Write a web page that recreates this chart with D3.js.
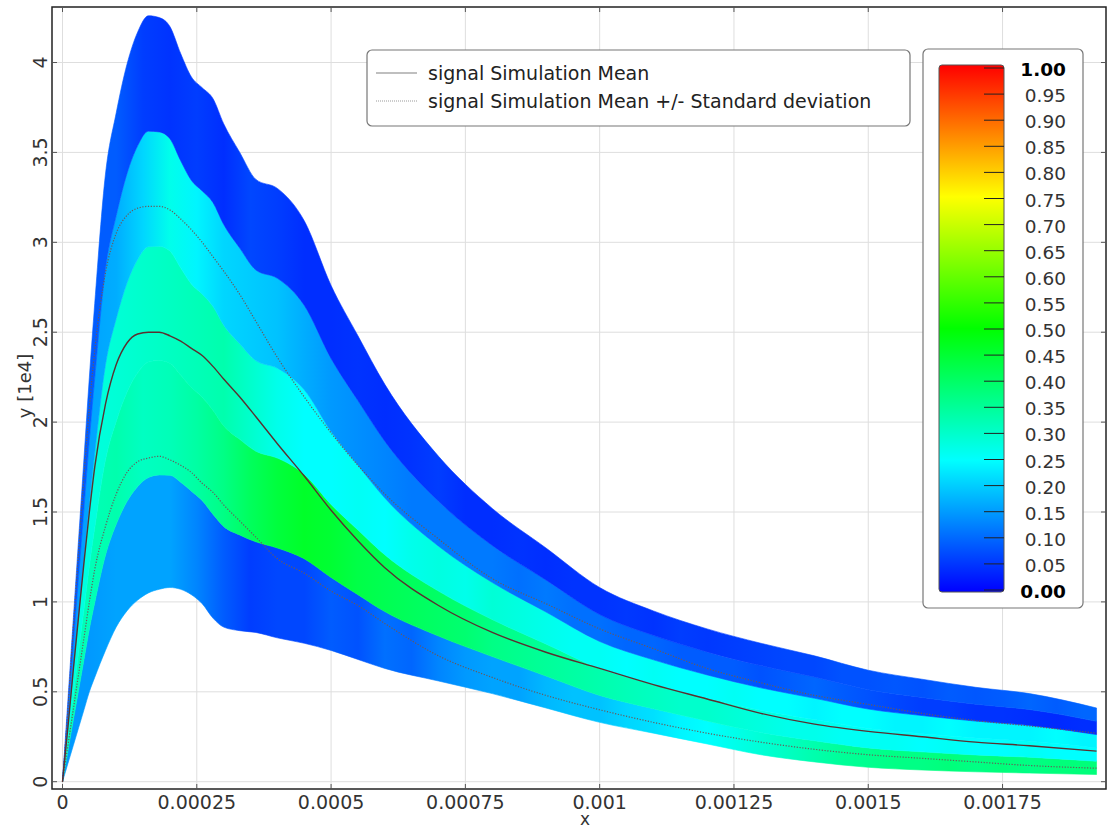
<!DOCTYPE html>
<html>
<head>
<meta charset="utf-8">
<script src="https://cdn.jsdelivr.net/npm/d3@7"></script>
<style>
  body { margin: 0; background: #fff; }
  text { font-family: 'DejaVu Sans', Verdana, sans-serif; }
</style>
</head>
<body>
<div id="chart"></div>
<script>
// boundary grid (x) and band edges, y in units of 1e4
const xs = [0, 0.00001, 0.00002, 0.00003, 0.00004, 0.00005, 0.00006, 0.00008, 0.0001, 0.00012,
  0.00014, 0.00016, 0.00018, 0.0002, 0.00022, 0.00024, 0.00026, 0.00028, 0.0003, 0.00033,
  0.00036, 0.0004, 0.00045, 0.0005, 0.00055, 0.0006, 0.0007, 0.0008, 0.0009, 0.001,
  0.0011, 0.0012, 0.0013, 0.0014, 0.0015, 0.0016, 0.0017, 0.0018, 0.001925];
const hiY = [0, 0.45, 0.9, 1.35, 1.8, 2.25, 2.66, 3.38, 3.72, 3.99,
  4.17, 4.26, 4.25, 4.2, 4.05, 3.92, 3.86, 3.8, 3.66, 3.5,
  3.35, 3.3, 3.12, 2.76, 2.48, 2.21, 1.81, 1.52, 1.3, 1.08,
  0.95, 0.85, 0.77, 0.7, 0.62, 0.57, 0.525, 0.49, 0.41];
const loY = [0, 0.1, 0.2, 0.3, 0.4, 0.5, 0.58, 0.73, 0.86, 0.95,
  1.01, 1.05, 1.07, 1.08, 1.07, 1.04, 0.99, 0.91, 0.86, 0.84,
  0.83, 0.8, 0.77, 0.73, 0.68, 0.63, 0.56, 0.49, 0.41, 0.33,
  0.27, 0.21, 0.15, 0.11, 0.08, 0.065, 0.055, 0.048, 0.04];
const meanY = [0, 0.3, 0.62, 0.92, 1.22, 1.5, 1.75, 2.1, 2.32, 2.44,
  2.49, 2.5, 2.5, 2.48, 2.45, 2.41, 2.37, 2.31, 2.24, 2.14,
  2.03, 1.88, 1.7, 1.51, 1.34, 1.19, 0.98, 0.83, 0.72, 0.63,
  0.54, 0.46, 0.38, 0.32, 0.28, 0.25, 0.22, 0.2, 0.17];
const upperY = [0, 0.4, 0.85, 1.28, 1.7, 2.08, 2.4, 2.83, 3.05, 3.15,
  3.19, 3.2, 3.2, 3.18, 3.13, 3.07, 3.0, 2.92, 2.84, 2.71,
  2.56, 2.36, 2.14, 1.94, 1.76, 1.6, 1.35, 1.13, 0.99, 0.85,
  0.74, 0.63, 0.55, 0.48, 0.43, 0.38, 0.34, 0.31, 0.27];
const lowerY = [0, 0.2, 0.4, 0.6, 0.8, 1.0, 1.18, 1.42, 1.6, 1.72,
  1.78, 1.8, 1.81, 1.79, 1.76, 1.72, 1.66, 1.61, 1.54, 1.45,
  1.36, 1.24, 1.16, 1.06, 0.98, 0.88, 0.7, 0.58, 0.48, 0.4,
  0.33, 0.27, 0.22, 0.18, 0.15, 0.13, 0.11, 0.09, 0.075];

// colour grid (x) and the share of samples in each of the 5 bins (bottom p1 .. top p5)
const xc = d3.range(40).map(i => i * 0.00005);
const p1 = [0.15, 0.15, 0.16, 0.16, 0.16, 0.13, 0.09, 0.06, 0.07, 0.07,
  0.09, 0.08, 0.11, 0.1, 0.13, 0.15, 0.16, 0.16, 0.18, 0.19,
  0.19, 0.21, 0.22, 0.24, 0.25, 0.27, 0.29, 0.31, 0.33, 0.35,
  0.36, 0.37, 0.37, 0.38, 0.37, 0.38, 0.37, 0.38, 0.38, 0.38];
const p2 = [0.32, 0.32, 0.33, 0.31, 0.32, 0.34, 0.37, 0.41, 0.44, 0.46,
  0.45, 0.43, 0.42, 0.41, 0.4, 0.39, 0.37, 0.36, 0.35, 0.34,
  0.33, 0.32, 0.31, 0.3, 0.3, 0.29, 0.28, 0.27, 0.27, 0.26,
  0.26, 0.26, 0.25, 0.26, 0.25, 0.25, 0.26, 0.25, 0.25, 0.25];
const p3 = [0.28, 0.28, 0.29, 0.3, 0.31, 0.32, 0.33, 0.3, 0.27, 0.25,
  0.25, 0.26, 0.25, 0.27, 0.28, 0.27, 0.29, 0.28, 0.27, 0.26,
  0.26, 0.25, 0.26, 0.25, 0.25, 0.26, 0.25, 0.25, 0.24, 0.25,
  0.25, 0.24, 0.24, 0.25, 0.24, 0.24, 0.24, 0.25, 0.24, 0.24];
const p4 = [0.15, 0.16, 0.17, 0.21, 0.27, 0.24, 0.21, 0.2, 0.19, 0.17,
  0.15, 0.14, 0.13, 0.12, 0.12, 0.12, 0.12, 0.11, 0.12, 0.11,
  0.11, 0.1, 0.1, 0.09, 0.09, 0.09, 0.08, 0.09, 0.1, 0.09,
  0.08, 0.07, 0.06, 0.06, 0.05, 0.05, 0.045, 0.04, 0.045, 0.045];
const p5 = [0.08, 0.09, 0.09, 0.06, 0.05, 0.06, 0.045, 0.07, 0.06, 0.045,
  0.045, 0.05, 0.045, 0.05, 0.06, 0.045, 0.045, 0.05, 0.045, 0.05,
  0.05, 0.055, 0.05, 0.06, 0.055, 0.06, 0.065, 0.07, 0.07, 0.08,
  0.08, 0.085, 0.08, 0.09, 0.085, 0.09, 0.1, 0.09, 0.1, 0.1];
const shares = [p1, p2, p3, p4, p5];

const xTicks = [0, 0.00025, 0.0005, 0.00075, 0.001, 0.00125, 0.0015, 0.00175];
const xTickLabels = ['0', '0.00025', '0.0005', '0.00075', '0.001', '0.00125', '0.0015', '0.00175'];
const yTicks = [0, 0.5, 1, 1.5, 2, 2.5, 3, 3.5, 4];
const cbTicks = d3.range(21).map(i => i * 0.05);
const legendLabels = ['signal Simulation Mean', 'signal Simulation Mean +/- Standard deviation'];

const width = 1109;
const height = 830;
const plot = { left: 52, right: 1106, top: 7, bottom: 789 };

const xScale = d3.scaleLinear().domain([-0.00001955, 0.0019426]).range([plot.left, plot.right]);
const yScale = d3.scaleLinear().domain([-0.0406, 4.3088]).range([plot.bottom, plot.top]);

const color = d3.scaleLinear()
  .domain([0, 0.25, 0.5, 0.75, 1])
  .range(['#0000ff', '#00ffff', '#00ff00', '#ffff00', '#ff0000']);

const svg = d3.select('#chart').append('svg')
  .attr('width', width).attr('height', height);
svg.append('rect').attr('width', width).attr('height', height).attr('fill', '#fff');

const defs = svg.append('defs');
defs.append('clipPath').attr('id', 'clip').append('rect')
  .attr('x', plot.left).attr('y', plot.top)
  .attr('width', plot.right - plot.left).attr('height', plot.bottom - plot.top);

// grid
const grid = svg.append('g').attr('stroke', '#dedede').attr('stroke-width', 1);
xTicks.forEach(t => grid.append('line')
  .attr('x1', xScale(t)).attr('x2', xScale(t)).attr('y1', plot.top).attr('y2', plot.bottom));
yTicks.forEach(t => grid.append('line')
  .attr('x1', plot.left).attr('x2', plot.right).attr('y1', yScale(t)).attr('y2', yScale(t)));

// bands
const nBins = 5;
const rows = xs.map((x, i) => ({ x, lo: loY[i], hi: hiY[i] }));
const gx1 = xScale(xc[0]);
const gx2 = xScale(xc[xc.length - 1]);
const bands = svg.append('g').attr('clip-path', 'url(#clip)');

shares.forEach((share, k) => {
  const grad = defs.append('linearGradient')
    .attr('id', `band${k}`)
    .attr('gradientUnits', 'userSpaceOnUse')
    .attr('x1', gx1).attr('x2', gx2).attr('y1', 0).attr('y2', 0);
  xc.forEach((x, i) => grad.append('stop')
    .attr('offset', (xScale(x) - gx1) / (gx2 - gx1))
    .attr('stop-color', color(share[i])));

  const area = d3.area()
    .x(d => xScale(d.x))
    .y0(d => yScale(d.lo + (d.hi - d.lo) * k / nBins))
    .y1(d => yScale(d.lo + (d.hi - d.lo) * (k + 1) / nBins))
    .curve(d3.curveMonotoneX);

  bands.append('path')
    .datum(rows)
    .attr('fill', `url(#band${k})`)
    .attr('stroke', `url(#band${k})`)
    .attr('stroke-width', 0.6)
    .attr('d', area);
});

// mean and +/- std lines
const lineOf = arr => d3.line()
  .x((d, i) => xScale(xs[i]))
  .y(d => yScale(d))
  .curve(d3.curveMonotoneX)(arr);

bands.append('path').attr('d', lineOf(upperY))
  .attr('fill', 'none').attr('stroke', '#6a5a5a').attr('stroke-width', 1.2)
  .attr('stroke-dasharray', '1.2,1.6');
bands.append('path').attr('d', lineOf(lowerY))
  .attr('fill', 'none').attr('stroke', '#6a5a5a').attr('stroke-width', 1.2)
  .attr('stroke-dasharray', '1.2,1.6');
bands.append('path').attr('d', lineOf(meanY))
  .attr('fill', 'none').attr('stroke', '#5a3030').attr('stroke-width', 1.4);

// frame and inside ticks
svg.append('rect')
  .attr('x', plot.left).attr('y', plot.top)
  .attr('width', plot.right - plot.left).attr('height', plot.bottom - plot.top)
  .attr('fill', 'none').attr('stroke', '#222').attr('stroke-width', 1.5);

const ticks = svg.append('g').attr('stroke', '#555').attr('stroke-width', 1);
xTicks.forEach(t => {
  ticks.append('line').attr('x1', xScale(t)).attr('x2', xScale(t))
    .attr('y1', plot.bottom).attr('y2', plot.bottom - 5);
  ticks.append('line').attr('x1', xScale(t)).attr('x2', xScale(t))
    .attr('y1', plot.top).attr('y2', plot.top + 5);
});
yTicks.forEach(t => {
  ticks.append('line').attr('y1', yScale(t)).attr('y2', yScale(t))
    .attr('x1', plot.left).attr('x2', plot.left + 5);
  ticks.append('line').attr('y1', yScale(t)).attr('y2', yScale(t))
    .attr('x1', plot.right).attr('x2', plot.right - 5);
});

// tick labels
svg.append('g').selectAll('text').data(xTicks).enter().append('text')
  .attr('x', d => xScale(d)).attr('y', 809)
  .attr('text-anchor', 'middle')
  .attr('font-size', 19).attr('fill', '#333')
  .text((d, i) => xTickLabels[i]);

svg.append('g').selectAll('text').data(yTicks).enter().append('text')
  .attr('transform', d => `translate(47, ${yScale(d)}) rotate(-90)`)
  .attr('text-anchor', 'middle')
  .attr('font-size', 19).attr('fill', '#333')
  .text(d => d3.format('~g')(d));

// axis titles
svg.append('text').attr('x', 585).attr('y', 825)
  .attr('text-anchor', 'middle').attr('font-size', 17).attr('fill', '#333').text('x');
svg.append('text').attr('transform', `translate(31, 386) rotate(-90)`)
  .attr('text-anchor', 'middle').attr('font-size', 18).attr('fill', '#333').text('y [1e4]');

// legend
const legend = svg.append('g');
legend.append('rect')
  .attr('x', 367).attr('y', 50).attr('width', 543).attr('height', 76)
  .attr('rx', 5).attr('fill', '#fff').attr('stroke', '#777').attr('stroke-width', 1.2);
legend.append('line').attr('x1', 376).attr('x2', 417).attr('y1', 73).attr('y2', 73)
  .attr('stroke', '#aaa').attr('stroke-width', 1.5);
legend.append('line').attr('x1', 376).attr('x2', 417).attr('y1', 101).attr('y2', 101)
  .attr('stroke', '#999').attr('stroke-width', 1.2).attr('stroke-dasharray', '1,1');
legendLabels.forEach((label, i) => legend.append('text')
  .attr('x', 428).attr('y', 80 + i * 28)
  .attr('font-size', 19).attr('fill', '#222').text(label));

// colour bar
const cb = svg.append('g');
cb.append('rect')
  .attr('x', 923).attr('y', 49).attr('width', 160).attr('height', 559)
  .attr('rx', 5).attr('fill', '#fff').attr('stroke', '#777').attr('stroke-width', 1.2);
const cbGrad = defs.append('linearGradient')
  .attr('id', 'cbgrad').attr('x1', 0).attr('x2', 0).attr('y1', 1).attr('y2', 0);
color.domain().forEach(v => cbGrad.append('stop')
  .attr('offset', v).attr('stop-color', color(v)));
const cbScale = d3.scaleLinear().domain([0, 1]).range([590, 68]);
cb.append('rect')
  .attr('x', 939).attr('y', 65).attr('width', 65).attr('height', 527)
  .attr('rx', 3).attr('fill', 'url(#cbgrad)').attr('stroke', '#555').attr('stroke-width', 1);
cb.selectAll('line.cbtick').data(cbTicks).enter().append('line')
  .attr('class', 'cbtick')
  .attr('x1', 984).attr('x2', 1004)
  .attr('y1', d => cbScale(d)).attr('y2', d => cbScale(d))
  .attr('stroke', '#222').attr('stroke-width', 1);
cb.selectAll('text').data(cbTicks).enter().append('text')
  .attr('x', 1066).attr('y', d => cbScale(d) + 8)
  .attr('text-anchor', 'end')
  .attr('font-size', 18.5)
  .attr('font-weight', (d, i) => (i === 0 || i === cbTicks.length - 1 ? 'bold' : 'normal'))
  .attr('fill', (d, i) => (i === 0 || i === cbTicks.length - 1 ? '#000' : '#333'))
  .text(d => d3.format('.2f')(d));
</script>
</body>
</html>
